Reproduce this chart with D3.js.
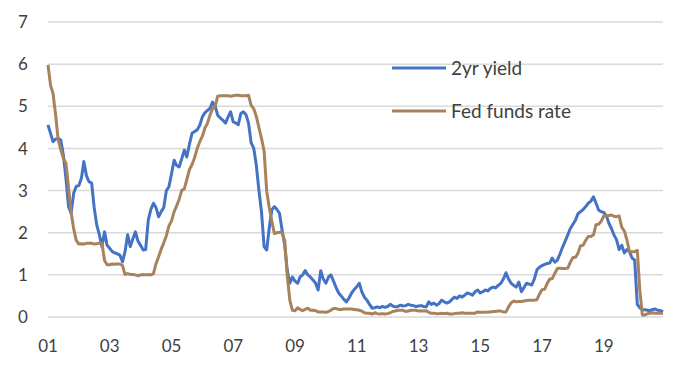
<!DOCTYPE html>
<html>
<head>
<meta charset="utf-8">
<script src="https://cdnjs.cloudflare.com/ajax/libs/d3/7.8.5/d3.min.js"></script>
<style>
  body { margin: 0; background: #fff; }
</style>
</head>
<body>
<div class="chart"></div>
<script>
// monthly values, Jan 2001 .. Dec 2020 (one row per year)
const startMonth = "2001-01"
const seriesNames = ["2yr yield", "Fed funds rate"]

const twoYearYield = [
  4.56, 4.35, 4.16, 4.22, 4.24, 4.20, 3.85, 3.30, 2.62, 2.46, 2.94, 3.10,
  3.12, 3.30, 3.69, 3.35, 3.21, 3.18, 2.60, 2.18, 1.95, 1.67, 2.02, 1.70,
  1.63, 1.55, 1.52, 1.50, 1.47, 1.31, 1.55, 1.95, 1.67, 1.85, 2.02, 1.80,
  1.70, 1.59, 1.60, 2.30, 2.55, 2.70, 2.60, 2.38, 2.50, 2.60, 3.00, 3.09,
  3.40, 3.72, 3.60, 3.56, 3.75, 3.96, 3.80, 4.10, 4.36, 4.40, 4.44, 4.55,
  4.75, 4.85, 4.90, 4.95, 5.10, 5.00, 4.79, 4.72, 4.67, 4.60, 4.75, 4.87,
  4.63, 4.60, 4.56, 4.83, 4.87, 4.80, 4.60, 4.13, 4.00, 3.60, 3.00, 2.50,
  1.67, 1.59, 2.10, 2.54, 2.62, 2.55, 2.46, 2.06, 1.70, 1.10, 0.80, 0.95,
  0.85, 0.80, 0.95, 1.00, 1.10, 1.00, 0.95, 0.88, 0.80, 0.64, 1.10, 0.90,
  0.80, 0.95, 1.00, 0.85, 0.70, 0.57, 0.50, 0.42, 0.36, 0.45, 0.57, 0.65,
  0.72, 0.80, 0.60, 0.47, 0.40, 0.30, 0.21, 0.22, 0.24, 0.22, 0.25, 0.23,
  0.25, 0.30, 0.26, 0.24, 0.25, 0.28, 0.26, 0.27, 0.30, 0.28, 0.27, 0.25,
  0.26, 0.27, 0.25, 0.24, 0.36, 0.30, 0.33, 0.28, 0.32, 0.40, 0.36, 0.33,
  0.36, 0.42, 0.47, 0.44, 0.50, 0.47, 0.52, 0.57, 0.55, 0.52, 0.60, 0.64,
  0.57, 0.60, 0.64, 0.62, 0.68, 0.71, 0.69, 0.75, 0.80, 0.90, 1.05, 0.90,
  0.80, 0.75, 0.71, 0.83, 0.60, 0.70, 0.80, 0.78, 0.76, 0.90, 1.12, 1.18,
  1.22, 1.25, 1.27, 1.28, 1.40, 1.30, 1.35, 1.50, 1.66, 1.80, 1.95, 2.10,
  2.20, 2.30, 2.45, 2.50, 2.55, 2.62, 2.70, 2.75, 2.85, 2.70, 2.54, 2.50,
  2.48, 2.40, 2.23, 2.10, 1.95, 1.83, 1.60, 1.70, 1.52, 1.60, 1.55, 1.40,
  1.35, 0.30, 0.22, 0.17, 0.17, 0.16, 0.15, 0.18, 0.19, 0.16, 0.15, 0.12
]

const fedFunds = [
  5.98, 5.49, 5.31, 4.80, 4.21, 3.97, 3.77, 3.65, 3.07, 2.49, 2.09, 1.82,
  1.73, 1.74, 1.73, 1.75, 1.75, 1.75, 1.73, 1.74, 1.75, 1.75, 1.34, 1.24,
  1.24, 1.26, 1.25, 1.26, 1.26, 1.22, 1.01, 1.03, 1.01, 1.01, 1.00, 0.98,
  1.00, 1.01, 1.00, 1.00, 1.00, 1.03, 1.26, 1.43, 1.61, 1.76, 1.93, 2.16,
  2.28, 2.50, 2.63, 2.79, 3.00, 3.04, 3.26, 3.50, 3.62, 3.78, 4.00, 4.16,
  4.29, 4.49, 4.59, 4.79, 4.94, 4.99, 5.24, 5.25, 5.25, 5.25, 5.25, 5.24,
  5.25, 5.26, 5.26, 5.25, 5.25, 5.25, 5.26, 5.02, 4.94, 4.76, 4.49, 4.24,
  3.94, 2.98, 2.61, 2.28, 1.98, 2.00, 2.01, 2.00, 1.81, 0.97, 0.39, 0.16,
  0.15, 0.22, 0.18, 0.15, 0.18, 0.21, 0.16, 0.16, 0.15, 0.12, 0.12, 0.12,
  0.11, 0.13, 0.16, 0.20, 0.20, 0.18, 0.18, 0.19, 0.19, 0.19, 0.19, 0.18,
  0.17, 0.16, 0.14, 0.10, 0.09, 0.09, 0.07, 0.10, 0.08, 0.07, 0.08, 0.07,
  0.08, 0.10, 0.13, 0.14, 0.16, 0.16, 0.16, 0.13, 0.14, 0.16, 0.16, 0.16,
  0.14, 0.15, 0.14, 0.15, 0.11, 0.09, 0.09, 0.08, 0.08, 0.09, 0.08, 0.09,
  0.07, 0.07, 0.08, 0.09, 0.09, 0.10, 0.09, 0.09, 0.09, 0.09, 0.09, 0.12,
  0.11, 0.11, 0.11, 0.12, 0.12, 0.13, 0.13, 0.14, 0.14, 0.12, 0.12, 0.24,
  0.34, 0.38, 0.36, 0.37, 0.37, 0.38, 0.39, 0.40, 0.40, 0.40, 0.41, 0.54,
  0.65, 0.66, 0.79, 0.90, 0.91, 1.04, 1.15, 1.16, 1.15, 1.15, 1.16, 1.30,
  1.41, 1.42, 1.51, 1.69, 1.70, 1.82, 1.91, 1.91, 1.95, 2.19, 2.20, 2.27,
  2.40, 2.40, 2.41, 2.42, 2.39, 2.38, 2.40, 2.13, 2.04, 1.83, 1.55, 1.55,
  1.55, 1.58, 0.65, 0.05, 0.05, 0.08, 0.09, 0.10, 0.09, 0.09, 0.09, 0.09
]

const yTicks = [0, 1, 2, 3, 4, 5, 6, 7]
const xTickYears = [2001, 2003, 2005, 2007, 2009, 2011, 2013, 2015, 2017, 2019]

function drawRates() {
  const width = 676
  const height = 375
  const colors = ["#4472c4", "#a8825d"]
  const font = "Lato, 'Open Sans', sans-serif"

  const start = d3.timeParse("%Y-%m")(startMonth)
  const dates = twoYearYield.map((d, i) => d3.timeMonth.offset(start, i))

  const x = d3.scaleTime()
    .domain(d3.extent(dates))
    .range([48, 663])

  const y = d3.scaleLinear()
    .domain([0, 7])
    .range([317, 22])

  const svg = d3.select(".chart").append("svg")
    .attr("width", width)
    .attr("height", height)

  // gridlines
  svg.append("g")
    .selectAll("line")
    .data(yTicks)
    .enter()
    .append("line")
    .attr("x1", 48)
    .attr("x2", 663)
    .attr("y1", d => y(d))
    .attr("y2", d => y(d))
    .attr("stroke", "#d9d9d9")
    .attr("stroke-width", 1.5)

  // y labels
  svg.append("g")
    .selectAll("text")
    .data(yTicks)
    .enter()
    .append("text")
    .attr("x", 23)
    .attr("y", d => y(d))
    .attr("dy", "0.36em")
    .style("text-anchor", "middle")
    .style("font-family", font)
    .style("font-size", "17px")
    .attr("fill", "#404040")
    .text(d => d)

  // x labels
  const fmt = d3.timeFormat("%y")
  svg.append("g")
    .selectAll("text")
    .data(xTickYears.map(yr => new Date(yr, 0, 1)))
    .enter()
    .append("text")
    .attr("x", d => x(d))
    .attr("y", 346)
    .attr("dy", "0.36em")
    .style("text-anchor", "middle")
    .style("font-family", font)
    .style("font-size", "17px")
    .attr("fill", "#404040")
    .text(d => fmt(d))

  const line = d3.line()
    .x((d, i) => x(dates[i]))
    .y(d => y(d))

  const series = [twoYearYield, fedFunds]

  svg.append("g")
    .selectAll("path")
    .data(series)
    .enter()
    .append("path")
    .attr("d", line)
    .attr("fill", "none")
    .attr("stroke", (d, i) => colors[i])
    .attr("stroke-width", 3)
    .attr("stroke-linejoin", "round")

  // legend
  const legend = svg.append("g")
    .selectAll("g")
    .data(seriesNames)
    .enter()
    .append("g")
    .attr("transform", (d, i) => "translate(392," + (68 + i * 43) + ")")

  legend.append("line")
    .attr("x1", 0)
    .attr("x2", 54)
    .attr("stroke", (d, i) => colors[i])
    .attr("stroke-width", 3)

  legend.append("text")
    .attr("x", 59)
    .attr("dy", "0.36em")
    .style("font-family", font)
    .style("font-size", "19px")
    .attr("fill", "#404040")
    .text(d => d)
}

drawRates()
</script>
</body>
</html>
